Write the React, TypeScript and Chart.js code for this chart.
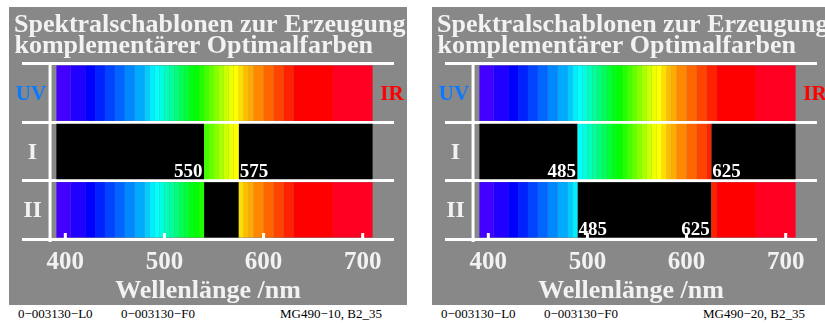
import React, { useEffect, useRef } from 'react';
import { Chart, registerables } from 'chart.js';

Chart.register(...registerables);

// ---------- shared data ----------
const rowLabels = ['UV', 'I', 'II'];
const bandEdges = [391, 405, 420, 430, 440, 450, 460, 470, 480, 485, 490, 495, 500, 505, 510, 515, 520, 525, 530, 535, 540, 545, 550, 555, 560, 565, 570, 575, 580, 585, 590, 600, 610, 620, 630, 670, 710];
const bandColors = [
  '#4400ff', '#2200ff', '#0000ff', '#0022ff', '#0044ff', '#0066ff', '#0088ff', '#00aaff', '#00ccff', '#00eeff',
  '#00ffff', '#00ffdd', '#00ffbb', '#00ff99', '#00ff77', '#00ff55', '#00ff33', '#00ff11', '#00ff00', '#22ff00',
  '#44ff00', '#66ff00', '#88ff00', '#aaff00', '#ccff00', '#eeff00', '#ffff00', '#ffdd00', '#ffbb00', '#ffaa00',
  '#ff8800', '#ff6600', '#ff4400', '#ff2200', '#ff0000', '#ff0022',
];
const tickValues = [400, 500, 600, 700];
const axisMin = 356.3;
const axisMax = 731.6;
const axisLineNm = 384.6;
const axisTitle = 'Wellenlänge /nm';
const titleLines = ['Spektralschablonen zur Erzeugung', 'komplementärer Optimalfarben'];

// ---------- left panel ----------
const leftOpen = [[[391, 710]], [[540, 575]], [[391, 540], [575, 710]]];
const leftMarkRows = [1, 1];
const leftMarkNm = [540, 575];
const leftMarkText = ['550', '575'];
const leftMarkSide = ['before', 'after'];
const leftFooter = ['0\u2212003130\u2212L0', '0\u2212003130\u2212F0', 'MG490\u221210, B2_35'];

// ---------- right panel ----------
const rightOpen = [[[391, 710]], [[490, 625]], [[391, 490], [625, 710]]];
const rightMarkRows = [1, 1, 2, 2];
const rightMarkNm = [490, 625, 490, 625];
const rightMarkText = ['485', '625', '485', '625'];
const rightMarkSide = ['before', 'after', 'after', 'before'];
const rightFooter = ['0\u2212003130\u2212L0', '0\u2212003130\u2212F0', 'MG490\u221220, B2_35'];

const SERIF = '"Liberation Serif", "Times New Roman", serif';
const TEXT = '#f2f2f2';

function buildDatasets(open: number[][][]) {
  const lo = bandEdges[0];
  const hi = bandEdges[bandEdges.length - 1];
  const ds: any[] = bandColors.map((c, k) => ({
    data: open.map((intervals) => {
      for (const [a, b] of intervals) {
        const s = Math.max(a, bandEdges[k]);
        const e = Math.min(b, bandEdges[k + 1]);
        if (e > s) return [s, e];
      }
      return null;
    }),
    backgroundColor: c,
  }));
  const gaps = open.map((intervals) => {
    const out: number[][] = [];
    let cur = lo;
    for (const [a, b] of intervals) {
      if (a > cur) out.push([cur, a]);
      cur = Math.max(cur, b);
    }
    if (cur < hi) out.push([cur, hi]);
    return out;
  });
  for (let g = 0; g < 2; g++) {
    ds.push({ data: gaps.map((l) => (l[g] ? l[g] : null)), backgroundColor: '#000000' });
  }
  return ds;
}

function makeDecor(markRows: number[], markNm: number[], markText: string[], markSide: string[]) {
  return {
    id: 'decor',
    afterDraw(chart: any) {
      const { ctx, chartArea } = chart;
      const xs = chart.scales.x;
      const ys = chart.scales.y;
      ctx.save();
      // vertical axis line
      ctx.strokeStyle = '#ffffff';
      ctx.lineWidth = 3;
      const vx = xs.getPixelForValue(axisLineNm);
      ctx.beginPath();
      ctx.moveTo(vx, chartArea.top);
      ctx.lineTo(vx, chartArea.bottom + 3);
      ctx.stroke();
      // tick marks pointing up
      for (const t of tickValues) {
        const px = xs.getPixelForValue(t);
        ctx.beginPath();
        ctx.moveTo(px, chartArea.bottom - 6);
        ctx.lineTo(px, chartArea.bottom);
        ctx.stroke();
      }
      // title
      ctx.fillStyle = TEXT;
      ctx.font = `bold 26px ${SERIF}`;
      ctx.textAlign = 'left';
      ctx.textBaseline = 'alphabetic';
      ctx.fillText(titleLines[0], 5, 24.7);
      ctx.fillText(titleLines[1], 5.5, 46.3);
      // UV / IR
      const r0 = ys.getPixelForValue(0);
      ctx.font = `bold 21px ${SERIF}`;
      ctx.textAlign = 'center';
      ctx.textBaseline = 'middle';
      ctx.fillStyle = '#0a78ff';
      ctx.fillText('UV', 22, r0 + 1);
      ctx.fillStyle = '#ff0000';
      ctx.fillText('IR', 383, r0 + 1);
      // row labels
      ctx.fillStyle = TEXT;
      ctx.font = `bold 24px ${SERIF}`;
      ctx.fillText(rowLabels[1], 23.5, ys.getPixelForValue(1) + 1);
      ctx.fillText(rowLabels[2], 23.5, ys.getPixelForValue(2) + 1);
      // edge markers
      ctx.font = `bold 19px ${SERIF}`;
      ctx.textBaseline = 'alphabetic';
      ctx.fillStyle = '#ffffff';
      markText.forEach((txt, i) => {
        const px = xs.getPixelForValue(markNm[i]);
        const py = ys.getPixelForValue(markRows[i]) + 25.5;
        if (markSide[i] === 'before') {
          ctx.textAlign = 'right';
          ctx.fillText(txt, px - 1.5, py);
        } else {
          ctx.textAlign = 'left';
          ctx.fillText(txt, px + 1, py);
        }
      });
      ctx.restore();
    },
  };
}

type PanelProps = {
  x: number;
  open: number[][][];
  markRows: number[];
  markNm: number[];
  markText: string[];
  markSide: string[];
  footer: string[];
};

function Panel(p: PanelProps) {
  const ref = useRef<HTMLCanvasElement>(null);
  useEffect(() => {
    const canvas = ref.current!;
    const chart = new Chart(canvas, {
      type: 'bar',
      data: { labels: rowLabels, datasets: buildDatasets(p.open) },
      options: {
        indexAxis: 'y',
        animation: false,
        responsive: false,
        devicePixelRatio: 1,
        events: [],
        layout: { padding: { left: 13, right: 13, top: 57, bottom: 0 } },
        datasets: {
          bar: { grouped: false, barPercentage: 0.95, categoryPercentage: 1, borderWidth: 0 },
        },
        plugins: {
          legend: { display: false },
          title: { display: false },
          tooltip: { enabled: false },
        },
        scales: {
          x: {
            type: 'linear',
            min: axisMin,
            max: axisMax,
            grid: { display: false },
            border: { display: false },
            afterBuildTicks: (s: any) => {
              s.ticks = tickValues.map((v) => ({ value: v }));
            },
            ticks: {
              color: TEXT,
              font: { family: SERIF, size: 25, weight: 'bold', lineHeight: 1 },
              padding: 3,
              maxRotation: 0,
              autoSkip: false,
            },
            title: {
              display: true,
              text: axisTitle,
              color: TEXT,
              font: { family: SERIF, size: 26, weight: 'bold', lineHeight: 1 },
              padding: { top: 0, bottom: 1 },
            },
          },
          y: {
            type: 'category',
            grid: { color: '#ffffff', lineWidth: 3, drawTicks: false, offset: true },
            border: { display: false },
            ticks: { display: false },
          },
        },
      } as any,
      plugins: [makeDecor(p.markRows, p.markNm, p.markText, p.markSide)],
    });
    return () => chart.destroy();
  }, []);

  const footStyle = (dx: number): React.CSSProperties => ({
    position: 'absolute',
    left: p.x + dx,
    top: 307,
    font: `13px ${SERIF}`,
    lineHeight: '13px',
    color: '#000',
    whiteSpace: 'nowrap',
  });

  return (
    <>
      <canvas
        ref={ref}
        width={398}
        height={298}
        style={{ position: 'absolute', left: p.x, top: 7, width: 398, height: 298, background: '#888888', display: 'block' }}
      />
      <span style={footStyle(9)}>{p.footer[0]}</span>
      <span style={footStyle(112)}>{p.footer[1]}</span>
      <span style={footStyle(271)}>{p.footer[2]}</span>
    </>
  );
}

export default function App() {
  return (
    <div style={{ position: 'absolute', left: 0, top: 0, width: 825, height: 323, overflow: 'hidden', background: '#ffffff' }}>
      <Panel x={9} open={leftOpen} markRows={leftMarkRows} markNm={leftMarkNm} markText={leftMarkText} markSide={leftMarkSide} footer={leftFooter} />
      <Panel x={432} open={rightOpen} markRows={rightMarkRows} markNm={rightMarkNm} markText={rightMarkText} markSide={rightMarkSide} footer={rightFooter} />
    </div>
  );
}
